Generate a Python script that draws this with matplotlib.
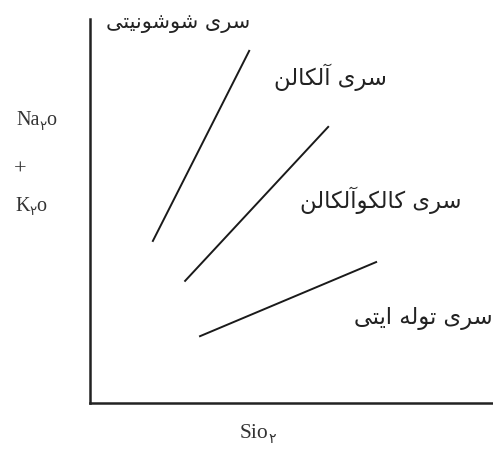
import matplotlib
matplotlib.use("Agg")
import matplotlib.pyplot as plt

# سری‌های ماگمایی روی نمودار SiO2 در برابر Na2O+K2O
series_names = ["سری شوشونیتی", "سری آلکالن", "سری کالکوآلکالن", "سری توله ایتی"]
label_x = [39.7, 73.7, 92.3, 100.0]
label_y = [99.3, 85.2, 53.1, 22.3]

# سه خط مرزی (ابتدا و انتهای هر خط)
line_x = [[15.6, 39.5], [23.6, 59.1], [27.3, 71.0]]
line_y = [[42.2, 91.7], [31.8, 71.9], [17.4, 36.7]]

# --- شکل‌دهی ساده حروف فارسی (matplotlib خودش حروف را به هم نمی‌چسباند)
FORMS = {
    # iso, fin, ini, med
    "ا": ("\uFE8D", "\uFE8E", None, None),
    "آ": ("\uFE81", "\uFE82", None, None),
    "ر": ("\uFEAD", "\uFEAE", None, None),
    "و": ("\uFEED", "\uFEEE", None, None),
    "ت": ("\uFE95", "\uFE96", "\uFE97", "\uFE98"),
    "س": ("\uFEB1", "\uFEB2", "\uFEB3", "\uFEB4"),
    "ش": ("\uFEB5", "\uFEB6", "\uFEB7", "\uFEB8"),
    "ل": ("\uFEDD", "\uFEDE", "\uFEDF", "\uFEE0"),
    "ن": ("\uFEE5", "\uFEE6", "\uFEE7", "\uFEE8"),
    "ه": ("\uFEE9", "\uFEEA", "\uFEEB", "\uFEEC"),
    "ک": ("\uFB8E", "\uFB8F", "\uFB90", "\uFB91"),
    "ی": ("\uFBFC", "\uFBFD", "\uFBFE", "\uFBFF"),
}


def dual(c):
    return c in FORMS and FORMS[c][2] is not None


def shape(s):
    out = []
    for i, c in enumerate(s):
        if c not in FORMS:
            out.append(c)
            continue
        prev = s[i - 1] if i > 0 else ""
        nxt = s[i + 1] if i + 1 < len(s) else ""
        join_prev = dual(prev)
        join_next = dual(c) and nxt in FORMS
        iso, fin, ini, med = FORMS[c]
        if join_prev and join_next:
            out.append(med)
        elif join_prev:
            out.append(fin)
        elif join_next:
            out.append(ini)
        else:
            out.append(iso)
    return "".join(out)[::-1]


fig = plt.figure(figsize=(4.93, 4.60), dpi=100)
ax = fig.add_axes([90 / 493, 56 / 460, 403 / 493, 384 / 460])
ax.set_xlim(0, 100)
ax.set_ylim(0, 100)
ax.set_xticks([])
ax.set_yticks([])
for side in ["top", "right"]:
    ax.spines[side].set_visible(False)
for side in ["left", "bottom"]:
    ax.spines[side].set_linewidth(1.8)
    ax.spines[side].set_color("#222222")
# بخش پررنگ بالای محور عمودی
ax.plot([0, 0], [80.5, 100], transform=ax.transAxes, color="#222222",
        lw=4, clip_on=False, solid_capstyle="butt")

for xs, ys in zip(line_x, line_y):
    ax.plot(xs, ys, color="#1a1a1a", lw=1.4)

for i, (name, x, y) in enumerate(zip(series_names, label_x, label_y)):
    fs = 15 if i == 0 else 16.3
    ax.text(x, y, shape(name), ha="right", va="center", fontsize=fs,
            family="DejaVu Sans", color="#222222", clip_on=False)

serif = ["Liberation Serif", "DejaVu Sans"]
fig.canvas.draw()
renderer = fig.canvas.get_renderer()


def chem(xpx, ypx, base, sub, tail, size=14.5):
    # متن با زیرنویس عدد فارسی
    t = fig.text(xpx / 493, 1 - ypx / 460, base, fontsize=size, family=serif,
                 va="center", ha="left", color="#333333")
    bb = t.get_window_extent(renderer)
    s = fig.text(bb.x1 / 493, 1 - (ypx + 5) / 460, sub, fontsize=size * 0.65,
                 family=["DejaVu Sans"], va="center", ha="left", color="#333333")
    bb2 = s.get_window_extent(renderer)
    fig.text(bb2.x1 / 493, 1 - ypx / 460, tail, fontsize=size, family=serif,
             va="center", ha="left", color="#333333")


chem(16, 121, "Na", "۲", "o")
fig.text(20 / 493, 1 - 170 / 460, "+", fontsize=16, family=serif,
         ha="center", va="center", color="#333333")
chem(15, 207, "K", "۲", "o")
chem(240, 434, "Sio", "۲", "", size=15.5)

fig.savefig("out.png", dpi=100)
